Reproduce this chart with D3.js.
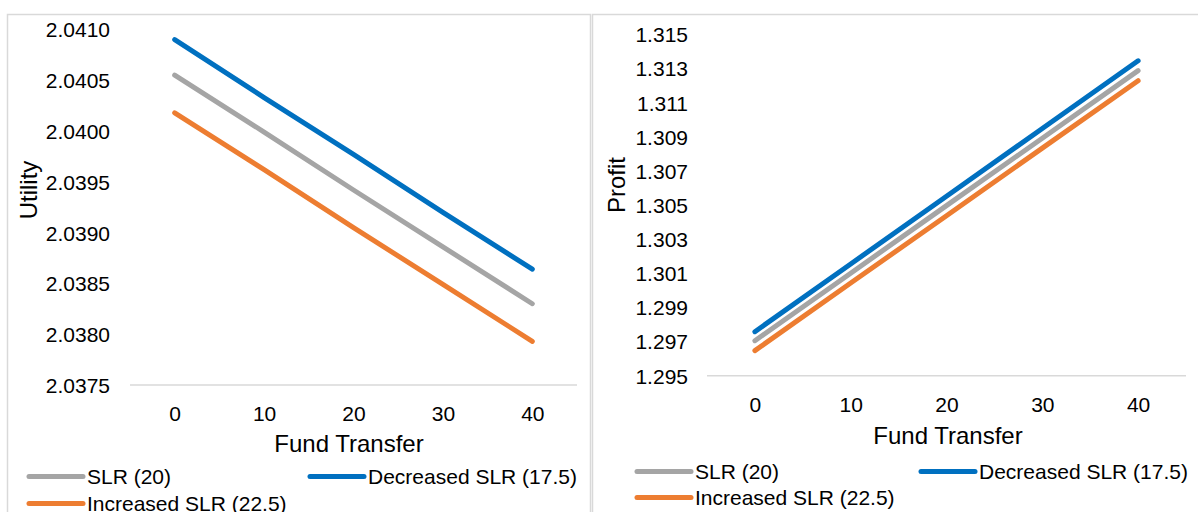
<!DOCTYPE html>
<html>
<head>
<meta charset="utf-8">
<script src="https://cdn.jsdelivr.net/npm/d3@7"></script>
<style>
  body { margin: 0; background: #fff; }
  text { font-family: "Liberation Sans", Arial, sans-serif; fill: #000; }
  .line { fill: none; stroke-width: 5; stroke-linecap: round; stroke-linejoin: round; }
</style>
</head>
<body>
<script>
// Data
var fundTransfer = [0, 10, 20, 30, 40];
var seriesNames = ["SLR (20)", "Decreased SLR (17.5)", "Increased SLR (22.5)"];
var seriesColors = ["#A5A5A5", "#0070C0", "#ED7D31"];

var utilitySLR       = [2.04055, 2.03999, 2.03942, 2.03886, 2.03830];
var utilityDecreased = [2.04090, 2.04033, 2.03977, 2.03920, 2.03864];
var utilityIncreased = [2.04018, 2.03962, 2.03905, 2.03849, 2.03793];
var utilityTicks = [2.0375, 2.0380, 2.0385, 2.0390, 2.0395, 2.0400, 2.0405, 2.0410];

var profitSLR       = [1.29705, 1.30101, 1.30497, 1.30892, 1.31288];
var profitDecreased = [1.29758, 1.30155, 1.30552, 1.30949, 1.31346];
var profitIncreased = [1.29647, 1.30043, 1.30438, 1.30834, 1.31229];
var profitTicks = [1.295, 1.297, 1.299, 1.301, 1.303, 1.305, 1.307, 1.309, 1.311, 1.313, 1.315];

var W = 1198, H = 512;

var svg = d3.select("body")
    .append("svg")
        .attr("width", W)
        .attr("height", H);

// Chart frames
svg.append("rect")
    .attr("x", 7.5).attr("y", 14.5)
    .attr("width", 583).attr("height", 520)
    .attr("fill", "none").attr("stroke", "#d9d9d9").attr("stroke-width", 1.5);
svg.append("rect")
    .attr("x", 592.5).attr("y", 14.5)
    .attr("width", 620).attr("height", 520)
    .attr("fill", "none").attr("stroke", "#d9d9d9").attr("stroke-width", 1.5);

function drawPanel(p) {
    var x = d3.scalePoint().domain(fundTransfer).range(p.xRange).padding(0.5);
    var y = d3.scaleLinear().domain(d3.extent(p.ticks)).range(p.yRange);

    var g = svg.append("g");

    // baseline (category axis line)
    g.append("line")
        .attr("x1", p.xRange[0]).attr("x2", p.xRange[1])
        .attr("y1", y(p.ticks[0])).attr("y2", y(p.ticks[0]))
        .attr("stroke", "#d9d9d9").attr("stroke-width", 1.5);

    // Y tick labels
    var yAxis = d3.axisLeft(y).tickValues(p.ticks).tickFormat(d3.format(p.fmt))
        .tickSize(0).tickPadding(0);
    var ya = g.append("g")
        .attr("transform", "translate(" + p.yLabelX + ",0)")
        .call(yAxis);
    ya.select(".domain").remove();
    ya.selectAll("text").attr("font-size", 21).attr("fill", "#000")
        .attr("font-family", "Liberation Sans, Arial, sans-serif")
        .attr("dy", "0.35em");

    // X tick labels
    var xAxis = d3.axisBottom(x).tickSize(0).tickPadding(0);
    var xa = g.append("g")
        .attr("transform", "translate(0," + p.xLabelY + ")")
        .call(xAxis);
    xa.select(".domain").remove();
    xa.selectAll("text").attr("font-size", 21).attr("fill", "#000")
        .attr("font-family", "Liberation Sans, Arial, sans-serif")
        .attr("dy", 0).attr("y", 0);

    // axis titles
    g.append("text")
        .attr("x", p.xTitle[0]).attr("y", p.xTitle[1])
        .attr("text-anchor", "middle").attr("font-size", 24)
        .text("Fund Transfer");
    g.append("text")
        .attr("transform", "translate(" + p.yTitle[0] + "," + p.yTitle[1] + ") rotate(-90)")
        .attr("text-anchor", "middle").attr("font-size", 24)
        .text(p.yName);

    var plotline = d3.line()
        .x(function(d, i) { return x(fundTransfer[i]); })
        .y(function(d) { return y(d); });

    // draw order: gray, orange, blue on top
    [0, 2, 1].forEach(function(k) {
        g.append("path")
            .attr("class", "line")
            .style("stroke", seriesColors[k])
            .attr("d", plotline(p.series[k]));
    });

    // legend
    p.legend.forEach(function(pos, k) {
        g.append("line")
            .attr("x1", pos[0]).attr("x2", pos[0] + 54)
            .attr("y1", pos[1]).attr("y2", pos[1])
            .attr("stroke", seriesColors[k]).attr("stroke-width", 5)
            .attr("stroke-linecap", "round");
        g.append("text")
            .attr("x", pos[0] + 58).attr("y", pos[1] + 7)
            .attr("font-size", 21)
            .text(seriesNames[k]);
    });
}

drawPanel({
    series: [utilitySLR, utilityDecreased, utilityIncreased],
    ticks: utilityTicks, fmt: ".4f", yName: "Utility",
    xRange: [130, 577], yRange: [385, 29.5],
    yLabelX: 110, xLabelY: 421,
    xTitle: [349, 452], yTitle: [36.5, 190],
    legend: [[29, 476.5], [310, 476.5], [29, 503.5]]
});

drawPanel({
    series: [profitSLR, profitDecreased, profitIncreased],
    ticks: profitTicks, fmt: ".3f", yName: "Profit",
    xRange: [707, 1186], yRange: [375.7, 34.5],
    yLabelX: 688, xLabelY: 411.5,
    xTitle: [948, 444], yTitle: [625, 185],
    legend: [[637, 471.5], [921, 471.5], [637, 497.5]]
});
</script>
</body>
</html>
